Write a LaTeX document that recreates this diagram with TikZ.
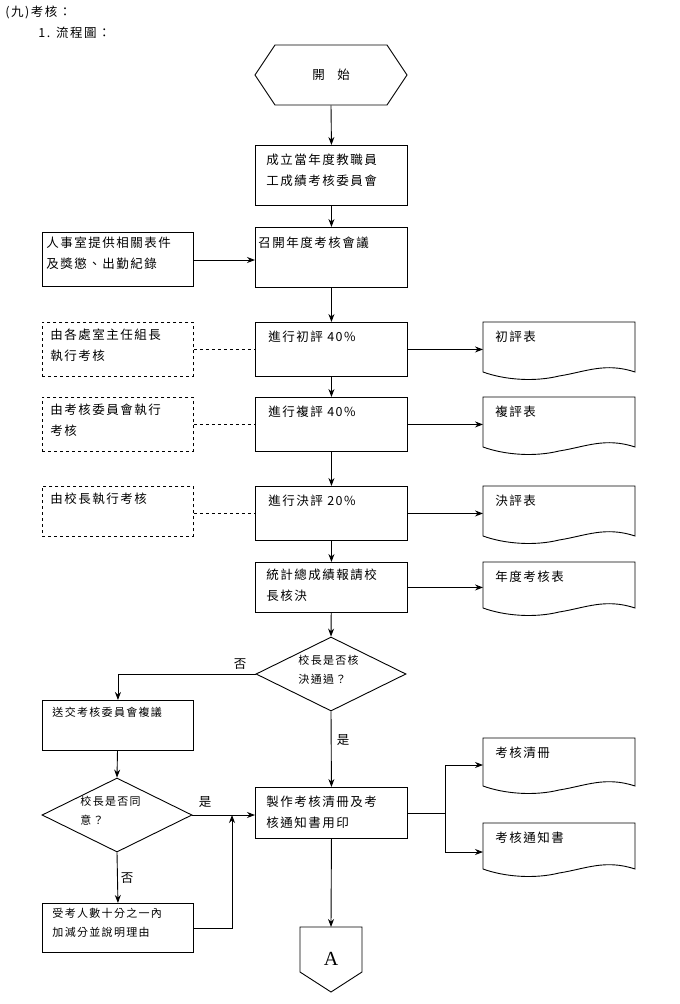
\documentclass[tikz,border=0pt]{standalone}
\usepackage{fontspec}
\setmainfont{Liberation Serif}
\newfontfamily\cjk[LetterSpace=12]{Noto Sans CJK TC}
\usetikzlibrary{arrows.meta,shapes.geometric,calc}
\begin{document}
\begin{tikzpicture}[x=1pt,y=-1pt,line width=0.9pt,
  font=\cjk\fontsize{12.5pt}{21pt}\selectfont,
  box/.style={draw,minimum width=152pt,minimum height=54pt,anchor=north west,inner sep=0pt},
  txt/.style={anchor=north west,align=left,inner sep=0pt},
  dbox/.style={draw,dashed,minimum width=151pt,minimum height=54pt,anchor=north west,inner sep=0pt},
  arr/.style={-{Stealth[length=8pt,width=6pt]}},
  doc/.style={draw=none,minimum width=152pt,minimum height=50pt,anchor=north west,inner sep=0pt}]
\useasboundingbox (0,0) rectangle (680,1004);
\node[anchor=west,inner sep=0pt] (t1) at (5,12) {(九)考核：};
\node[anchor=west,inner sep=0pt] (t2) at (38,33) {1. 流程圖：};
% start
\draw (275,45) -- (387,45) -- (407,75) -- (387,105) -- (275,105) -- (255,75) -- cycle;
\node (start) at (331,75) {開\quad 始};
\node[draw=none,minimum width=152pt,minimum height=60pt] (startn) at (331,75) {};
% main boxes
\node[box,minimum height=60pt] (b1) at (255,145) {};
\node[txt] at (266,153) {成立當年度教職員\\工成績考核委員會};
\node[box,minimum height=60pt] (b2) at (255,227) {};
\node[txt] at (258,236) {召開年度考核會議};
\node[box] (b3) at (255,322) {};
\node[txt] at (268,330) {進行初評 40\%};
\node[box] (b4) at (255,397) {};
\node[txt] at (268,405) {進行複評 40\%};
\node[box] (b5) at (255,486) {};
\node[txt] at (268,494) {進行決評 20\%};
\node[box,minimum height=50pt] (b6) at (255,562) {};
\node[txt] at (266,568) {統計總成績報請校\\長核決};
\node[draw,diamond,aspect=2,minimum width=150pt,minimum height=74pt,inner sep=0pt] (d1) at (331,674) {};
\node[txt,font=\cjk\fontsize{11pt}{19pt}\selectfont] at (298,655) {校長是否核\\決通過？};
\node[box,minimum height=51pt] (b7) at (255,787) {};
\node[txt] at (266,795) {製作考核清冊及考\\核通知書用印};
% left side
\node[box,minimum width=151pt] (l1) at (42,232) {};
\node[txt] at (46,236) {人事室提供相關表件\\及獎懲、出勤紀錄};
\node[dbox] (l2) at (42,322) {};
\node[txt] at (50,328) {由各處室主任組長\\執行考核};
\node[dbox] (l3) at (42,397) {};
\node[txt] at (50,403) {由考核委員會執行\\考核};
\node[dbox,minimum height=50pt] (l4) at (42,486) {};
\node[txt] at (50,492) {由校長執行考核};
\node[box,minimum width=151pt,minimum height=50pt] (l5) at (42,700) {};
\node[txt,font=\cjk\fontsize{11pt}{19pt}\selectfont] at (52,707) {送交考核委員會複議};
\node[draw,diamond,aspect=2,minimum width=150pt,minimum height=74pt,inner sep=0pt] (d2) at (117,815) {};
\node[txt,font=\cjk\fontsize{11pt}{19pt}\selectfont] at (80,796) {校長是否同\\意？};
\node[box,minimum width=151pt,minimum height=49pt] (l6) at (42,903) {};
\node[txt,font=\cjk\fontsize{11pt}{19pt}\selectfont] at (52,908) {受考人數十分之一內\\加減分並說明理由};
% documents
\foreach \n/\y/\h/\t in {r1/322/54/初評表, r2/397/54/複評表, r3/486/54/決評表, r4/562/50/年度考核表, r5/738/52/考核清冊, r6/823/50/考核通知書}{
  \draw (483,\y) -- (635,\y) -- (635,\y+\h-4) .. controls (605,\y+\h-14) and (585,\y+\h-4) .. (559,\y+\h) .. controls (535,\y+\h+6) and (505,\y+\h+4) .. (483,\y+\h-4) -- cycle;
  \node[doc,minimum height=\h pt] (\n) at (483,\y) {};
  \node[txt] at (495,\y+8) {\t};
}
% off-page connector
\draw (300,927) -- (362,927) -- (362,972) -- (331,992) -- (300,972) -- cycle;
\node[font=\fontsize{20pt}{20pt}\selectfont] (A) at (331,959) {A};
\coordinate (Atop) at (331,927);
% connectors
\draw[arr] (startn.south) -- (b1.north);
\draw[arr] (b1) -- (b2);
\draw[arr] (b2) -- (b3);
\draw[arr] (b3) -- (b4);
\draw[arr] (b4) -- (b5);
\draw[arr] (b5) -- (b6);
\draw[arr] (b6) -- (d1.north);
\draw[arr] (d1.south) -- (b7.north);
\node[inner sep=0pt] (yes1) at (343,740) {是};
\draw[arr] (l1.east |- 0,260) -- (b2.west |- 0,260);
\draw[dashed] (l2.east |- 0,349) -- (b3.west |- 0,349);
\draw[dashed] (l3.east |- 0,424) -- (b4.west |- 0,424);
\draw[dashed] (l4.east |- 0,513) -- (b5.west |- 0,513);
\draw[arr] (b3.east) -- (r1.west);
\draw[arr] (b4.east) -- (r2.west);
\draw[arr] (b5.east) -- (r3.west);
\draw[arr] (b6.east) -- (r4.west);
\draw[arr] (d1.west) -| (l5.north);
\node[inner sep=0pt] (no1) at (240,664) {否};
\draw[arr] (l5) -- (d2.north);
\draw[arr] (d2.east) -- (b7.west |- d2.east);
\node[inner sep=0pt] (yes2) at (205,802) {是};
\draw[arr] (d2.south) -- (l6.north);
\node[inner sep=0pt] (no2) at (127,878) {否};
\coordinate (j) at (232,815);
\draw[arr] (l6.east) -| (j);
\coordinate (br) at (445,813);
\draw (b7.east |- br) -- (br);
\draw[arr] (br) |- (r5.west |- 0,765);
\draw[arr] (br) |- (r6.west |- 0,852);
\draw[arr] (b7.south) -- (Atop);
\end{tikzpicture}
\end{document}
